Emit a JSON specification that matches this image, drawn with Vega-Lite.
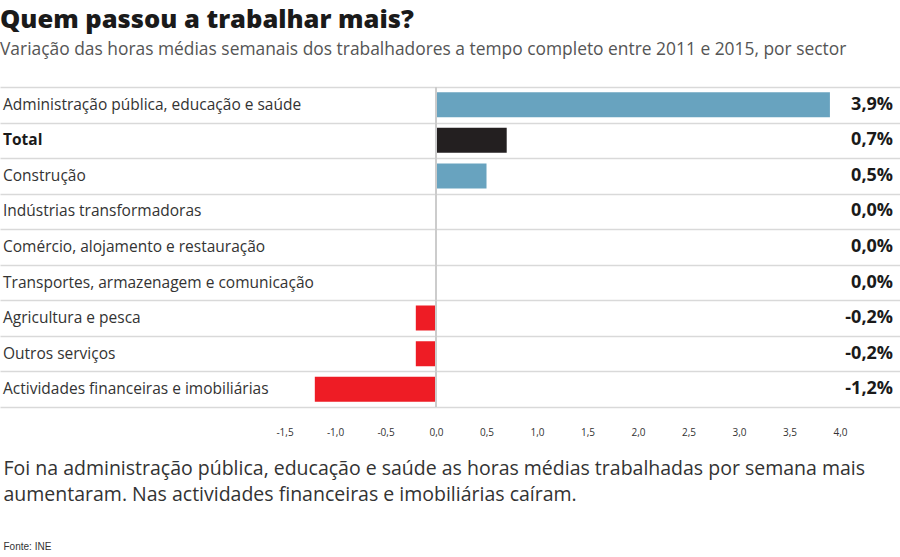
{
  "$schema": "https://vega.github.io/schema/vega-lite/v6.json",
  "width": 900,
  "height": 320,
  "autosize": {"type": "none"},
  "padding": {"left": 0, "right": 0, "top": 87, "bottom": 150},
  "background": "white",
  "config": {
    "view": {"stroke": null},
    "locale": {"number": {"decimal": ",", "thousands": ".", "grouping": [3], "currency": ["", " €"], "minus": "-"}},
    "font": "Open Sans"
  },
  "title": {
    "text": "Quem passou a trabalhar mais?",
    "subtitle": "Variação das horas médias semanais dos trabalhadores a tempo completo entre 2011 e 2015, por sector",
    "anchor": "start",
    "frame": "group",
    "font": "Open Sans",
    "fontSize": 25.5,
    "fontWeight": 800,
    "color": "#1a1a1a",
    "subtitleFont": "Open Sans",
    "subtitleFontSize": 17.4,
    "subtitleColor": "#555555",
    "subtitlePadding": 7,
    "offset": 28
  },
  "data": {
    "values": [
      {"sector": "Administração pública, educação e saúde", "value": 3.9, "label": "3,9%", "tipo": "positivo"},
      {"sector": "Total", "value": 0.7, "label": "0,7%", "tipo": "total"},
      {"sector": "Construção", "value": 0.5, "label": "0,5%", "tipo": "positivo"},
      {"sector": "Indústrias transformadoras", "value": 0.0, "label": "0,0%", "tipo": "positivo"},
      {"sector": "Comércio, alojamento e restauração", "value": 0.0, "label": "0,0%", "tipo": "positivo"},
      {"sector": "Transportes, armazenagem e comunicação", "value": 0.0, "label": "0,0%", "tipo": "positivo"},
      {"sector": "Agricultura e pesca", "value": -0.2, "label": "-0,2%", "tipo": "negativo"},
      {"sector": "Outros serviços", "value": -0.2, "label": "-0,2%", "tipo": "negativo"},
      {"sector": "Actividades financeiras e imobiliárias", "value": -1.2, "label": "-1,2%", "tipo": "negativo"}
    ]
  },
  "resolve": {"axis": {"x": "independent"}},
  "layer": [
    {
      "mark": {"type": "bar", "size": 25},
      "encoding": {
        "y": {
          "field": "sector", "type": "nominal", "sort": null,
          "scale": {"paddingInner": 0, "paddingOuter": 0},
          "axis": {"grid": true, "tickBand": "extent", "gridColor": "#d9d9d9", "gridWidth": 1.5, "labels": false, "ticks": false, "domain": false, "title": null}
        },
        "x": {
          "field": "value", "type": "quantitative",
          "scale": {"domain": [-4.317, 4.594], "nice": false, "zero": false},
          "axis": {
            "orient": "bottom",
            "values": [-1.5, -1, -0.5, 0, 0.5, 1, 1.5, 2, 2.5, 3, 3.5, 4],
            "format": ".1f",
            "grid": false, "domain": false, "ticks": false, "tickSize": 0,
            "labelPadding": 20, "labelFontSize": 10, "labelColor": "#333333", "labelFont": "Open Sans",
            "title": ["Foi na administração pública, educação e saúde as horas médias trabalhadas por semana mais", "aumentaram. Nas actividades financeiras e imobiliárias caíram."],
            "titleFont": "Open Sans", "titleFontSize": 19.5, "titleFontWeight": "normal", "titleColor": "#333333",
            "titleAnchor": "start", "titleAlign": "left", "titleBaseline": "top", "titleX": 3, "titleY": 52, "titleLineHeight": 26
          }
        },
        "color": {
          "field": "tipo", "type": "nominal",
          "scale": {"domain": ["positivo", "total", "negativo"], "range": ["#68a3bf", "#231f20", "#ee1c25"]},
          "legend": null
        }
      }
    },
    {
      "mark": {"type": "rule", "color": "#cccccc", "strokeWidth": 1.5},
      "encoding": {
        "x": {"datum": 0, "type": "quantitative", "axis": {
          "orient": "bottom",
          "labels": false, "ticks": false, "domain": false, "grid": false, "tickSize": 0,
          "title": "Fonte: INE", "titleFont": "Liberation Sans", "titleFontSize": 10, "titleFontWeight": "normal", "titleColor": "#333333",
          "titleAnchor": "start", "titleAlign": "left", "titleBaseline": "top", "titleX": 3, "titleY": 134
        }}
      }
    },
    {
      "transform": [{"filter": "datum.sector !== 'Total'"}],
      "mark": {"type": "text", "align": "left", "baseline": "middle", "fontSize": 15.5, "color": "#333333", "font": "Open Sans"},
      "encoding": {
        "y": {"field": "sector", "type": "nominal", "sort": null},
        "x": {"datum": -4.287, "type": "quantitative", "axis": null},
        "text": {"field": "sector"}
      }
    },
    {
      "transform": [{"filter": "datum.sector === 'Total'"}],
      "mark": {"type": "text", "align": "left", "baseline": "middle", "fontSize": 15.5, "fontWeight": "bold", "color": "#1a1a1a", "font": "Open Sans"},
      "encoding": {
        "y": {"field": "sector", "type": "nominal", "sort": null},
        "x": {"datum": -4.287, "type": "quantitative", "axis": null},
        "text": {"field": "sector"}
      }
    },
    {
      "mark": {"type": "text", "align": "right", "baseline": "middle", "fontSize": 18, "fontWeight": "bold", "color": "#1a1a1a", "font": "Open Sans"},
      "encoding": {
        "y": {"field": "sector", "type": "nominal", "sort": null},
        "x": {"datum": 4.525, "type": "quantitative", "axis": null},
        "text": {"field": "label"}
      }
    }
  ]
}
